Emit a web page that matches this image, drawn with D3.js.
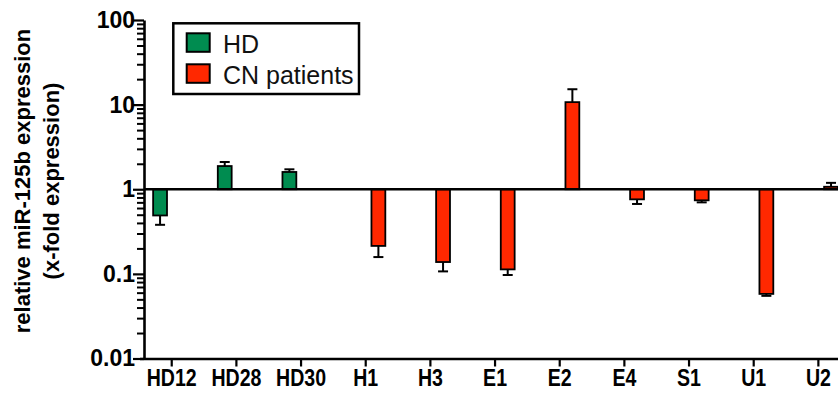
<!DOCTYPE html>
<html><head><meta charset="utf-8">
<script src="https://cdn.jsdelivr.net/npm/d3@7"></script>
<style>body{margin:0;background:#fff}svg{display:block}</style>
</head><body><svg id="c" width="838" height="397"></svg>
<script>
const categories = ["HD12","HD28","HD30","H1","H3","E1","E2","E4","S1","U1","U2"];
const groups = ["HD","CN patients"];
const groupOf = ["HD","HD","HD","CN patients","CN patients","CN patients","CN patients","CN patients","CN patients","CN patients","CN patients"];
const values = [0.49,1.88,1.6,0.214,0.138,0.113,10.7,0.76,0.74,0.058,1.07];
const errorEnds = [0.38,2.1,1.72,0.158,0.107,0.097,15.2,0.67,0.70,0.055,1.19];
const yTickValues = [0.01,0.1,1,10,100];
const yTickLabels = ["0.01","0.1","1","10","100"];
const groupColors = ["#008C50","#FF2800"];
const yTitle = ["relative miR-125b expression","(x-fold expression)"];

const svg = d3.select("#c");
const boldFont = "'Liberation Sans', Arial, Helvetica, sans-serif";

const x = d3.scaleBand().domain(categories).range([139.4, 850.7]).padding(0);
const xSub = d3.scaleBand().domain(groups).range([-18.6, 19.6]).paddingInner(0.43).paddingOuter(0);
const y = d3.scaleLog().domain([0.01, 100]).range([358.5, 20]);
const color = d3.scaleOrdinal().domain(groups).range(groupColors);
const axisX = 144;
const baseY = y(1);

// bars
const data = categories.map((c, i) => ({c, g: groupOf[i], v: values[i], e: errorEnds[i]}));
const bx = d => x(d.c) + x.bandwidth() / 2 + xSub(d.g);
const cx = d => bx(d) + xSub.bandwidth() / 2;

svg.append("g").selectAll("rect").data(data).join("rect")
  .attr("x", bx)
  .attr("width", xSub.bandwidth())
  .attr("y", d => Math.min(y(d.v), baseY))
  .attr("height", d => Math.abs(y(d.v) - baseY))
  .attr("fill", d => color(d.g))
  .attr("stroke", "#000").attr("stroke-width", 1.8);

// error bars
const eg = svg.append("g").attr("stroke", "#000").attr("stroke-width", 2);
eg.selectAll("line.v").data(data).join("line").attr("class", "v")
  .attr("x1", cx).attr("x2", cx)
  .attr("y1", d => y(d.v)).attr("y2", d => y(d.e));
eg.selectAll("line.c").data(data).join("line").attr("class", "c")
  .attr("x1", d => cx(d) - 5).attr("x2", d => cx(d) + 5)
  .attr("y1", d => y(d.e)).attr("y2", d => y(d.e));

// baseline at 1
svg.append("line")
  .attr("x1", axisX).attr("x2", x.range()[1])
  .attr("y1", baseY).attr("y2", baseY)
  .attr("stroke", "#000").attr("stroke-width", 2.6);

// y axis
const minor = y.ticks().filter(t => !yTickValues.some(m => Math.abs(m - t) < 1e-9));
const yMinor = svg.append("g").attr("transform", `translate(${axisX},0)`)
  .call(d3.axisLeft(y).tickValues(minor).tickSize(7).tickSizeOuter(0).tickFormat(""));
yMinor.select(".domain").remove();
yMinor.selectAll("line").attr("stroke-width", 2);

const yAx = svg.append("g").attr("transform", `translate(${axisX},0)`)
  .call(d3.axisLeft(y).tickValues(yTickValues).tickFormat((d, i) => yTickLabels[i])
    .tickSize(11).tickSizeOuter(0).tickPadding(-2));
yAx.select(".domain").attr("stroke-width", 2.6);
yAx.selectAll("line").attr("stroke-width", 2.2);
yAx.selectAll("text").attr("font-family", boldFont).attr("font-weight", "bold")
  .attr("font-size", 23).attr("fill", "#000");

// x axis
const xAx = svg.append("g").attr("transform", `translate(0,${y(0.01)})`)
  .call(d3.axisBottom(x).tickSize(8).tickSizeOuter(0).tickPadding(3));
xAx.select(".domain").attr("stroke-width", 2.6);
xAx.selectAll("line").attr("stroke-width", 2.2);
xAx.selectAll("text").attr("font-family", boldFont).attr("font-weight", "bold")
  .attr("font-size", 23).attr("fill", "#000").attr("transform", "scale(0.85,1)");

// y title
const tg = svg.append("g").attr("transform", "rotate(-90)");
tg.selectAll("text").data(yTitle).join("text")
  .attr("x", -181).attr("y", (d, i) => 30 + i * 29)
  .attr("text-anchor", "middle")
  .attr("font-family", boldFont).attr("font-weight", "bold").attr("font-size", 22)
  .text(d => d);

// legend
const lg = svg.append("g");
lg.append("rect").attr("x", 173.3).attr("y", 23.3).attr("width", 185.7).attr("height", 70.7)
  .attr("fill", "#fff").attr("stroke", "#000").attr("stroke-width", 2.5);
const li = lg.selectAll("g.item").data(groups).join("g").attr("class", "item")
  .attr("transform", (d, i) => `translate(0,${i * 31})`);
li.append("rect").attr("x", 186.7).attr("y", 33.3).attr("width", 23).attr("height", 18.5)
  .attr("fill", d => color(d)).attr("stroke", "#000").attr("stroke-width", 2);
li.append("text").attr("x", 223).attr("y", 52.5)
  .attr("font-family", "'Liberation Sans', Arial, Helvetica, sans-serif")
  .attr("font-size", 25).attr("fill", "#111").text(d => d);
</script>
</body></html>
